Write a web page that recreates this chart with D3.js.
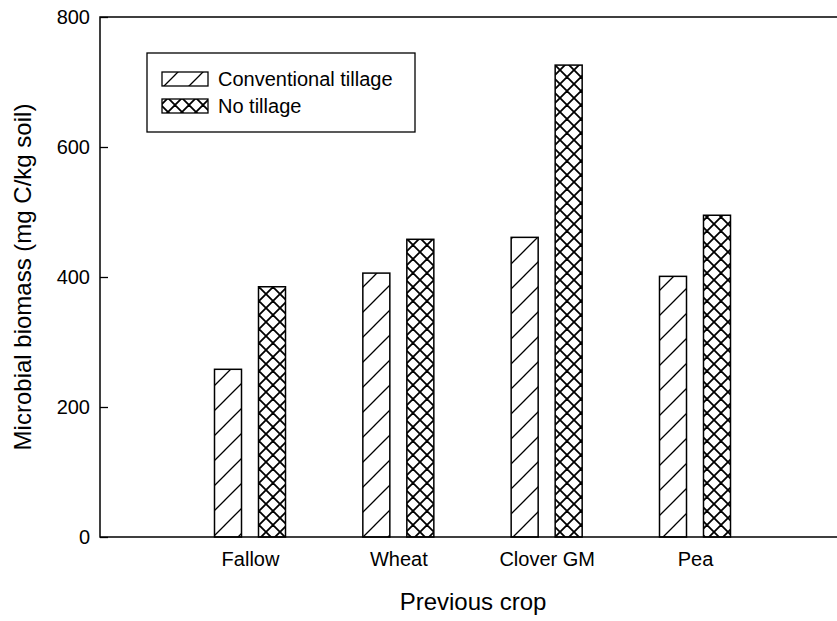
<!DOCTYPE html>
<html>
<head>
<meta charset="utf-8">
<script src="https://cdn.jsdelivr.net/npm/d3@7"></script>
<style>
  html, body { margin: 0; padding: 0; background: #fff; }
  svg { display: block; font-family: "Liberation Sans", Arial, sans-serif; }
</style>
</head>
<body>
<svg id="chart" width="837" height="621"></svg>
<script>
const categories = ["Fallow", "Wheat", "Clover GM", "Pea"];
const conventionalTillage = [258, 406, 461, 401];
const noTillage = [385, 458, 726, 495];
const seriesNames = ["Conventional tillage", "No tillage"];
const yTicks = [0, 200, 400, 600, 800];

const svg = d3.select("#chart");
const mLeft = 100, mTop = 17, mBottom = 537, mRight = 845;

const x = d3.scalePoint().domain(categories).range([250, 695]);
const y = d3.scaleLinear().domain([0, 800]).range([mBottom, mTop]);
const barW = 27, offset = 22;

const defs = svg.append("defs");
const p1 = defs.append("pattern").attr("id", "hatch").attr("patternUnits", "userSpaceOnUse")
  .attr("width", 25).attr("height", 25);
p1.append("rect").attr("width", 25).attr("height", 25).attr("fill", "#fff");
p1.append("path").attr("d", "M-5,5 L5,-5 M0,25 L25,0 M20,30 L30,20")
  .attr("stroke", "#000").attr("stroke-width", 1.3);

const p2 = defs.append("pattern").attr("id", "cross").attr("patternUnits", "userSpaceOnUse")
  .attr("width", 14).attr("height", 14);
p2.append("rect").attr("width", 14).attr("height", 14).attr("fill", "#fff");
p2.append("path").attr("d", "M0,0 L14,14 M-7,7 L7,21 M7,-7 L21,7 M0,14 L14,0 M-7,7 L7,-7 M7,21 L21,7")
  .attr("stroke", "#000").attr("stroke-width", 1.8);

// bars
const series = [
  { name: seriesNames[0], values: conventionalTillage, fill: "url(#hatch)", dx: -offset },
  { name: seriesNames[1], values: noTillage, fill: "url(#cross)", dx: offset }
];
series.forEach(s => {
  svg.append("g").selectAll("rect").data(categories).join("rect")
    .attr("x", (d) => x(d) + s.dx - barW / 2)
    .attr("y", (d, i) => y(s.values[i]))
    .attr("width", barW)
    .attr("height", (d, i) => y(0) - y(s.values[i]))
    .attr("fill", s.fill)
    .attr("stroke", "#000").attr("stroke-width", 1.5);
});

// frame
svg.append("path")
  .attr("d", `M${mRight},${mTop} L${mLeft},${mTop} L${mLeft},${mBottom} L${mRight},${mBottom} Z`)
  .attr("fill", "none").attr("stroke", "#000").attr("stroke-width", 1.5);

// y axis
const yAxis = d3.axisLeft(y).tickValues(yTicks).tickSize(-8).tickPadding(10).tickFormat(d3.format("d"));
const gy = svg.append("g").attr("transform", `translate(${mLeft},0)`).call(yAxis);
gy.select(".domain").remove();
gy.selectAll("line").attr("stroke", "#000").attr("stroke-width", 1.3);
gy.selectAll("text").attr("font-size", 20).attr("fill", "#000")
  .attr("font-family", "'Liberation Sans', Arial, sans-serif");

// x axis
const xAxis = d3.axisBottom(x).tickSize(0).tickPadding(15);
const gx = svg.append("g").attr("transform", `translate(0,${mBottom})`).call(xAxis);
gx.select(".domain").remove();
gx.selectAll("text").attr("font-size", 20).attr("fill", "#000")
  .attr("font-family", "'Liberation Sans', Arial, sans-serif");

// axis titles
svg.append("text").attr("x", 473).attr("y", 610).attr("text-anchor", "middle")
  .attr("font-size", 24).text("Previous crop");
svg.append("text").attr("transform", "translate(31,277) rotate(-90)")
  .attr("text-anchor", "middle").attr("font-size", 24)
  .text("Microbial biomass (mg C/kg soil)");

// legend
const lg = svg.append("g");
lg.append("rect").attr("x", 147).attr("y", 53).attr("width", 268).attr("height", 79)
  .attr("fill", "#fff").attr("stroke", "#000").attr("stroke-width", 1.3);
series.forEach((s, i) => {
  const yy = 72 + i * 27;
  lg.append("rect").attr("x", 162).attr("y", yy).attr("width", 46).attr("height", 14)
    .attr("fill", s.fill).attr("stroke", "#000").attr("stroke-width", 1.3);
  lg.append("text").attr("x", 218).attr("y", yy + 14).attr("font-size", 20).text(s.name);
});
</script>
</body>
</html>
